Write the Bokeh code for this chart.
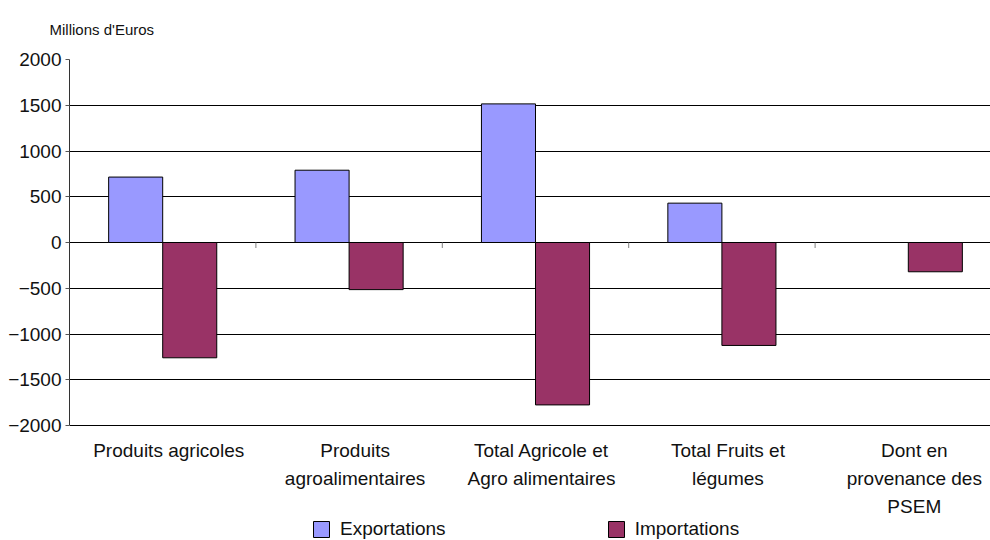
import numpy as np
from bokeh.plotting import figure
from bokeh.models import Range1d, FixedTicker, LinearAxis, ColumnDataSource
from bokeh.core.properties import value
from bokeh.embed import file_html
from bokeh.resources import INLINE

categories = ["Produits agricoles", "Produits\nagroalimentaires",
              "Total Agricole et\nAgro alimentaires", "Total Fruits et\nlégumes",
              "Dont en\nprovenance des\nPSEM"]
exportations = [715, 790, 1515, 430, np.nan]
importations = [-1260, -515, -1775, -1125, -320]
y_ticks = [-2000, -1500, -1000, -500, 0, 500, 1000, 1500, 2000]
unit_label = "Millions d'Euros"
series_names = ["Exportations", "Importations"]
colors = ["#9999FF", "#993366"]

FONT = "Liberation Sans"
n = len(categories)
centers = np.arange(n) + 0.5
bounds = np.arange(1, n)
bw = 0.29

W, H = 990, 540
left, top = 69, 59
frame_w = W - left
frame_h = H - top
cat_px = 186.4
x_end = frame_w / cat_px
y_lo, y_hi = min(y_ticks), max(y_ticks)
axis_px = 366                      # pixel height of the value axis
y_start = y_lo - (frame_h - axis_px) * (y_hi - y_lo) / axis_px

p = figure(width=W, height=H, output_backend="svg", toolbar_location=None,
           x_range=Range1d(0, x_end), y_range=Range1d(y_start, y_hi),
           min_border_left=left, min_border_right=0, min_border_top=top,
           min_border_bottom=0, x_axis_location=None, y_axis_location=None,
           title=unit_label)
p.outline_line_color = None
p.background_fill_color = "white"
p.border_fill_color = "white"

p.title.text_font = FONT
p.title.text_font_size = "15px"
p.title.text_font_style = "normal"
p.title.text_color = "#111111"
p.title.align = "left"
p.title.vertical_align = "top"
p.title.offset = -20
p.title.standoff = 40

# y axis
yax = LinearAxis(ticker=FixedTicker(ticks=y_ticks), bounds=(y_lo, y_hi))
yax.major_label_text_font = FONT
yax.major_label_text_font_size = "19px"
yax.major_label_text_color = "#111111"
yax.major_tick_out = 4
yax.major_tick_in = 0
yax.major_label_standoff = 4
yax.minor_tick_line_color = None
yax.axis_line_color = "#333333"
yax.major_tick_line_color = "#555555"
p.add_layout(yax, "left")

p.ygrid.ticker = FixedTicker(ticks=y_ticks)
p.ygrid.grid_line_color = "#000000"
p.ygrid.grid_line_width = 1
p.xgrid.grid_line_color = None

src = ColumnDataSource(dict(xe=centers - bw / 2, xi=centers + bw / 2,
                            exp=exportations, imp=importations))
p.vbar(x="xe", top="exp", bottom=0, width=bw, source=src, fill_color=colors[0],
       line_color="#000000", line_width=1, legend_label=series_names[0])
p.vbar(x="xi", top="imp", bottom=0, width=bw, source=src, fill_color=colors[1],
       line_color="#000000", line_width=1, legend_label=series_names[1])

# category boundary ticks on the zero line
p.segment(x0=bounds, y0=0, x1=bounds, y1=-60, line_color="#808080", line_width=1)

# category labels below the value axis
lab_src = ColumnDataSource(dict(x=centers, y=[y_lo] * n, t=categories))
p.text(x="x", y="y", text="t", source=lab_src, text_align="center",
       text_baseline="top", x_offset=6, y_offset=14, text_font=value(FONT),
       text_font_size="19px", text_color="#111111", text_line_height=1.35)

lg = p.legend[0]
lg.orientation = "horizontal"
lg.location = (242, 0)
lg.padding = 0
lg.margin = 0
lg.spacing = 160
lg.glyph_width = 20
lg.glyph_height = 20
lg.label_standoff = 9
lg.label_text_font = FONT
lg.label_text_font_size = "19px"
lg.label_text_color = "#111111"
lg.border_line_color = None
lg.background_fill_alpha = 0

open("out.html", "w").write(file_html(p, INLINE))
